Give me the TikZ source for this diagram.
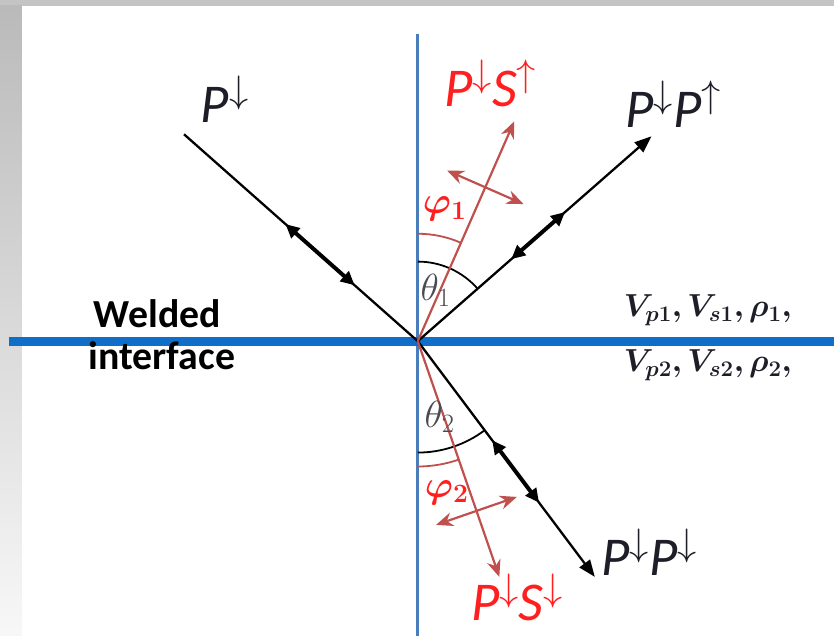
\RequirePackage{fix-cm}
\documentclass[tikz,border=0pt]{standalone}
\usepackage{amsmath, bm}
\usepackage{fontspec}
\setmainfont{Carlito}
\usepackage{xcolor}
\usepackage{tikz}
\usetikzlibrary{positioning, arrows.meta, calc}

\definecolor{ifaceblue}{HTML}{106EC8}
\definecolor{axisblue}{HTML}{4A7EBB}
\definecolor{shearred}{HTML}{C0504D}
\definecolor{labelred}{HTML}{FF1F1F}
\definecolor{framegray}{HTML}{C4C4C4}
\definecolor{inkdark}{HTML}{1E1E28}

\begin{document}
\begin{tikzpicture}[x=1pt, y=1pt,
    ray/.style={draw=black, line width=2.3pt},
    pray/.style={ray, -{Triangle[length=17pt,width=13pt]}},
    pol/.style={draw=black, line width=4pt, {Triangle[length=14pt,width=13pt]}-{Triangle[length=14pt,width=13pt]}},
    sray/.style={draw=shearred, line width=2.2pt, -{Stealth[length=17pt,width=14pt]}},
    spol/.style={draw=shearred, line width=2.2pt, {Stealth[length=17pt,width=14pt]}-{Stealth[length=17pt,width=14pt]}},
    wave/.style={inner sep=0pt, text=inkdark, font=\fontsize{55}{58}\selectfont},
    swave/.style={wave, text=labelred},
    anglabel/.style={inner sep=0pt, font=\fontsize{38}{40}\selectfont},
    medium/.style={inner sep=0pt, anchor=west, text=inkdark, font=\fontsize{32}{34}\selectfont},
    iface/.style={inner sep=0pt, anchor=west, font=\fontsize{40}{42}\selectfont\bfseries}]

    \fill[framegray] (0,0) rectangle (838,639);
    \shade[top color=framegray!95!black, bottom color=white!97!black] (0,0) rectangle (22,633);
    \fill[white] (22,0) rectangle (838,633);

    \coordinate (O) at (420,296);
    \coordinate (inc) at (185,504);
    \coordinate (rp) at (655,502);
    \coordinate (tp) at (598,59);
    \coordinate (rs) at (517,517);
    \coordinate (ts) at (502,59);

    \draw[axisblue, line width=2.6pt] (420,605) -- (420,0);
    \draw[ifaceblue, line width=9pt] (9,296) -- (838,296);

    \draw[line width=1.8pt] ([shift={(90:80)}]O) arc[start angle=90, end angle=41.2, radius=80];
    \draw[shearred, line width=1.8pt] ([shift={(90:108)}]O) arc[start angle=90, end angle=66.3, radius=108];
    \draw[line width=1.8pt] ([shift={(-90:112)}]O) arc[start angle=-90, end angle=-53.1, radius=112];
    \draw[shearred, line width=1.8pt] ([shift={(-90:126)}]O) arc[start angle=-90, end angle=-70.9, radius=126];

    \draw[ray] (inc) -- (O);
    \draw[pol] ($(inc)!0.434!(O)$) -- ($(inc)!0.73!(O)$);
    \draw[pray] (O) -- (rp);
    \draw[pol] ($(O)!0.40!(rp)$) -- ($(O)!0.63!(rp)$);
    \draw[pray] (O) -- (tp);
    \draw[pol] ($(O)!0.42!(tp)$) -- ($(O)!0.685!(tp)$);

    \draw[sray] (O) -- (rs);
    \coordinate (rsmid) at ($(O)!0.70!(rs)$);
    \draw[spol] ($(rsmid)!42pt!90:(rs)$) -- ($(rsmid)!42pt!-90:(rs)$);
    \draw[sray] (O) -- (ts);
    \coordinate (tsmid) at ($(O)!0.72!(ts)$);
    \draw[spol] ($(tsmid)!43pt!90:(ts)$) -- ($(tsmid)!43pt!-90:(ts)$);

    \node[wave] (lincp) at (226,539) {\textit{P}$^{\downarrow}$};
    \node[wave] (lrp) at (677,534) {\textit{P}$^{\downarrow}$\textit{P}$^{\uparrow}$};
    \node[wave] (ltp) at (653,84) {\textit{P}$^{\downarrow}$\textit{P}$^{\downarrow}$};
    \node[swave] (lrs) at (493,555) {\textit{P}$^{\downarrow}$\textit{S}$^{\uparrow}$};
    \node[swave] (lts) at (520,38) {\textit{P}$^{\downarrow}$\textit{S}$^{\downarrow}$};

    \node[anglabel, text=inkdark!80] (ltheta1) at (438,347) {$\theta_1$};
    \node[anglabel, text=labelred] (lphi1) at (447,429) {$\bm{\varphi_1}$};
    \node[anglabel, text=inkdark!80] (ltheta2) at (442,220) {$\theta_2$};
    \node[anglabel, text=labelred] (lphi2) at (449,144) {$\bm{\varphi_2}$};

    \node[iface] (welded) at (94,324) {Welded};
    \node[iface] (interface) at (89,281) {interface};

    \node[medium] (upper) at (627,327) {$\bm{V_{p1}, V_{s1}, \rho_1,}$};
    \node[medium] (lower) at (627,272) {$\bm{V_{p2}, V_{s2}, \rho_2,}$};
\end{tikzpicture}
\end{document}
